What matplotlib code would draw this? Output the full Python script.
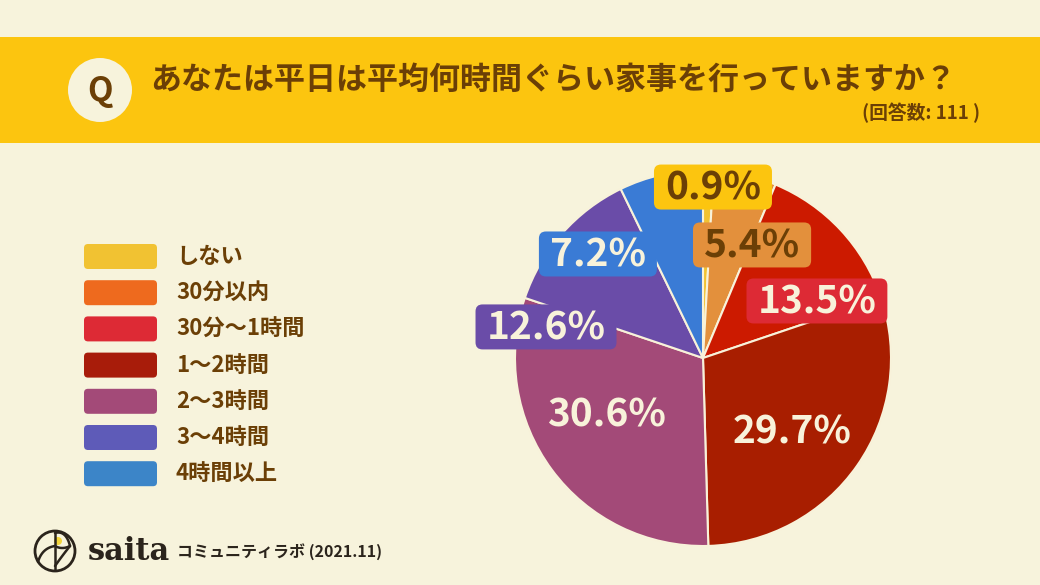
import numpy as np
import matplotlib
matplotlib.use("Agg")
import matplotlib.pyplot as plt
from matplotlib.patches import FancyBboxPatch, Circle, Rectangle

plt.rcParams['font.family'] = ['Noto Sans CJK JP', 'DejaVu Sans']

# data
categories = ["しない", "30分以内", "30分〜1時間", "1〜2時間", "2〜3時間", "3〜4時間", "4時間以上"]
shares = [0.9, 5.4, 13.5, 29.7, 30.6, 12.6, 7.2]
title = "あなたは平日は平均何時間ぐらい家事を行っていますか？"
note = "(回答数: 111 )"
credit = "コミュニティラボ (2021.11)"

# colours
bg = "#F7F3DC"
brown = "#6B3F06"
cream = "#F8F2DA"
pie_colors = ["#F1C232", "#E3903C", "#CC1A00", "#A81E00", "#A34A78", "#6A4CA8", "#3A7BD5"]
legend_colors = ["#F1C232", "#EE6A1E", "#DD2A35", "#A81C0A", "#A34A78", "#5E5BB8", "#3C85C8"]
box_colors = ["#FCC50F", "#E3903C", "#DD2A35", None, None, "#6A4CA8", "#3A7BD5"]
text_colors = [brown, brown, cream, cream, cream, cream, cream]
# label anchor points in pie units (radius = 1)
label_xy = [(0.053, 0.904), (0.261, 0.596), (0.606, 0.298), (0.473, -0.394),
            (-0.516, -0.303), (-0.835, 0.160), (-0.559, 0.548)]

W, H = 1040, 585
fig = plt.figure(figsize=(W / 100, H / 100), dpi=100)
fig.patch.set_facecolor(bg)

# overlay in pixel coordinates
ov = fig.add_axes([0, 0, 1, 1])
ov.set_xlim(0, W)
ov.set_ylim(H, 0)
ov.axis("off")

# header banner
ov.add_patch(Rectangle((0, 37), W, 106, color="#FCC50F", lw=0))
ov.add_patch(Circle((100, 90), 32, color=bg, lw=0))
ov.text(100, 92, "Q", fontsize=24, fontweight="bold", color=brown, ha="center", va="center")
ov.text(150, 80, title, fontsize=22.3, fontweight="bold", color=brown, ha="left", va="center")
ov.text(980, 113, note, fontsize=13.5, fontweight="bold", color=brown, ha="right", va="center")

# legend
for i, (cat, col) in enumerate(zip(categories, legend_colors)):
    y0 = 243 + i * 36.2
    ov.add_patch(FancyBboxPatch((84, y0 + 1), 73, 25, boxstyle="round,pad=0,rounding_size=4",
                                fc=col, ec="none"))
    ov.text(176, y0 + 13.5, cat, fontsize=16, fontweight="bold", color=brown,
            ha="left", va="center")


# logo (rough sketch of the saita mark)
def qcurve(p0, p1, p2, n=30):
    s = np.linspace(0, 1, n)[:, None]
    pts = (1 - s) ** 2 * np.array(p0) + 2 * (1 - s) * s * np.array(p1) + s ** 2 * np.array(p2)
    return pts[:, 0], pts[:, 1]


ink = "#2B241C"
ov.add_patch(Circle((55, 551), 20, fill=False, ec=ink, lw=2))
ov.add_patch(Circle((58, 541), 4, color="#F2D43A", lw=0))
for curve in [((38, 562), (42, 548), (55, 546)),      # left leaf
              ((55, 533), (55, 552), (55, 570)),      # stem
              ((55, 566), (62, 556), (70, 546)),      # right branch
              ((55, 533), (66, 530), (70, 546)),      # bud top
              ((55, 546), (62, 550), (70, 546))]:     # bud bottom
    xs, ys = qcurve(*curve)
    ov.plot(xs, ys, color=ink, lw=1.8, solid_capstyle="round")
ov.text(88, 551, "saita", fontsize=22, fontweight="bold", color=ink, ha="left", va="center",
        family="DejaVu Serif")
ov.text(177, 552, credit, fontsize=11.5, fontweight="bold", color=ink, ha="left", va="center")

# pie
cx, cy, R = 703, 358, 188
pax = fig.add_axes([(cx - R) / W, (H - cy - R) / H, 2 * R / W, 2 * R / H])
pax.pie(shares, colors=pie_colors, startangle=90, counterclock=False, radius=1,
        wedgeprops=dict(edgecolor=cream, linewidth=1.5))
pax.set_xlim(-1, 1)
pax.set_ylim(-1, 1)
pax.set_aspect("equal")
pax.axis("off")

labels = []
for v, (x, y), tc in zip(shares, label_xy, text_colors):
    t = pax.text(x, y, f"{v}%", fontsize=28, fontweight="bold", color=tc,
                 ha="center", va="center", clip_on=False, zorder=5)
    labels.append(t)

# rounded boxes behind the boxed labels: sized from the text width
fig.canvas.draw()
rend = fig.canvas.get_renderer()
px = 1.0 / R
for t, (x, y), bc in zip(labels, label_xy, box_colors):
    if bc is None:
        continue
    wpx = t.get_window_extent(rend).width
    bw = (wpx + 22) * px
    bh = 45 * px
    pax.add_patch(FancyBboxPatch((x - bw / 2, y - bh / 2 + 1 * px), bw, bh,
                                 boxstyle="round,pad=0,rounding_size=%f" % (7 * px),
                                 fc=bc, ec="none", zorder=4, clip_on=False))

fig.savefig("out.png", dpi=100, facecolor=bg)
